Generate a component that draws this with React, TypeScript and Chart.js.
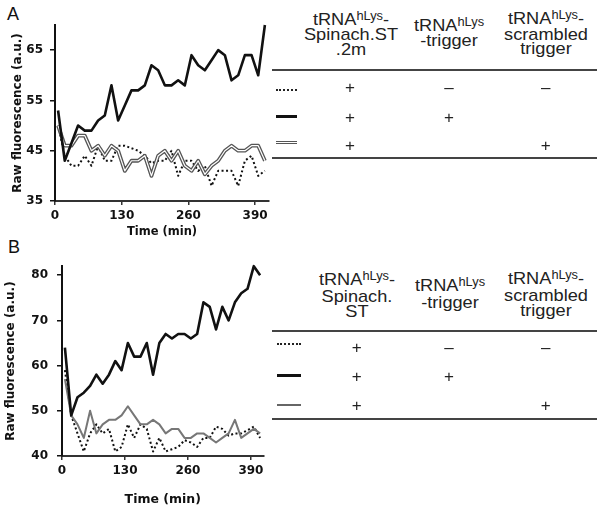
import React, { useEffect, useRef } from 'react';
import { Chart, registerables } from 'chart.js';

Chart.register(...registerables);

// ---------- data ----------
const TIMES = [6, 19, 32, 45, 58, 71, 84, 97, 110, 123, 136, 149, 162, 175, 188, 201, 214, 227, 240, 253, 266, 279, 292, 305, 318, 331, 344, 357, 370, 383, 396, 409];

// Panel A
const A_SPINACH_ONLY = [50, 44, 42, 42, 44, 42, 46, 43, 43, 46, 46, 45.5, 45, 44, 42.5, 43, 43, 45, 40, 43, 43, 41, 42, 38, 41, 41, 41, 38, 43, 44, 40, 41];
const A_TRIGGER = [53, 43, 46.5, 50, 49, 49, 51, 52, 58, 51, 54, 57, 57, 58, 62, 61, 58, 58, 59, 58, 64, 62, 61, 63, 65, 64, 59, 60, 64, 64, 60, 70];
const A_SCRAMBLED = [50, 46, 46, 48, 48, 45, 46, 44, 46, 45, 41, 43, 43, 44, 40, 44, 45, 43, 45, 42, 41, 43, 40.3, 42, 43, 45, 46, 45, 45, 46, 46, 43];

// Panel B
const B_SPINACH_ONLY = [59, 49, 45, 41, 45, 47, 45, 46, 41, 42, 47, 44, 47, 46, 41, 44, 41, 41.5, 42, 43.5, 43, 42, 44, 44, 46.5, 46, 44.5, 45, 45, 45.7, 46.5, 44];
const B_TRIGGER = [64, 49, 53, 54, 55.5, 58, 56, 58, 61, 59, 65, 62, 62, 65, 58, 65, 67, 66, 67, 67, 66, 67, 74, 73, 68, 73, 70, 74, 76, 77, 82, 80];
const B_SCRAMBLED = [57, 49, 47, 44, 50, 45, 47, 48, 48, 49, 51, 49, 47, 47, 48, 47, 45, 46, 46, 44, 44, 45, 45, 44, 43, 44, 45, 48, 44, 45, 46, 45];

const X_TICKS = [0, 130, 260, 390];
const A_Y_TICKS = [35, 45, 55, 65];
const B_Y_TICKS = [40, 50, 60, 70, 80];

const X_TITLE = 'Time (min)';
const Y_TITLE = 'Raw fluorescence (a.u.)';

// Tables
const TABLE_ROWS = [
  ['+', '–', '–'],
  ['+', '+', ''],
  ['+', '', '+'],
];
const HEAD_A = [
  { tail: '-', rest: ['Spinach.ST', '.2m'] },
  { tail: '', rest: ['-trigger'] },
  { tail: '-', rest: ['scrambled', 'trigger'] },
];
const HEAD_B = [
  { tail: '-', rest: ['Spinach.', 'ST'] },
  { tail: '', rest: ['-trigger'] },
  { tail: '-', rest: ['scrambled', 'trigger'] },
];

// ---------- chart component ----------
type Series = { data: number[]; color: string; width: number; dash?: number[] };
type PanelProps = {
  left: number; top: number; width: number; height: number;
  padTop: number; padRight: number;
  yW: number; xH: number;
  xMax: number; yMin: number; yMax: number; yTicks: number[];
  tickFont: number; yTickPad: number;
  xTitleSize: number; xTitlePadBottom: number; yTitlePadTop: number;
  series: Series[];
};

function PanelChart(p: PanelProps) {
  const ref = useRef<HTMLCanvasElement>(null);
  useEffect(() => {
    const toPts = (v: number[]) => TIMES.map((t, i) => ({ x: t, y: v[i] }));
    const font = (size: number) => ({ family: 'DejaVu Sans', weight: 'bold' as const, size });
    const chart = new Chart(ref.current as HTMLCanvasElement, {
      type: 'line',
      data: {
        datasets: p.series.map((s) => ({
          data: toPts(s.data),
          borderColor: s.color,
          borderWidth: s.width,
          borderDash: s.dash || [],
          borderCapStyle: 'butt',
          borderJoinStyle: 'round',
          pointRadius: 0,
          tension: 0,
          fill: false,
          clip: false as any,
        })),
      },
      options: {
        animation: false,
        responsive: false,
        events: [],
        layout: { padding: { left: 0, top: p.padTop, right: p.padRight, bottom: 0 } },
        plugins: { legend: { display: false }, tooltip: { enabled: false } },
        scales: {
          x: {
            type: 'linear',
            min: 0,
            max: p.xMax,
            afterBuildTicks: (s: any) => { s.ticks = X_TICKS.map((v) => ({ value: v })); },
            afterFit: (s: any) => { s.height = p.xH; },
            grid: { display: true, drawOnChartArea: false, drawTicks: true, tickLength: 4, color: '#333', lineWidth: 1.5 },
            border: { display: true, color: '#333', width: 2 },
            ticks: { font: font(p.tickFont), color: '#111', padding: 4, maxRotation: 0, autoSkip: false },
            title: { display: true, text: X_TITLE, font: font(p.xTitleSize), color: '#111', padding: { top: 0, bottom: p.xTitlePadBottom } },
          },
          y: {
            type: 'linear',
            min: p.yMin,
            max: p.yMax,
            afterBuildTicks: (s: any) => { s.ticks = p.yTicks.map((v) => ({ value: v })); },
            afterFit: (s: any) => { s.width = p.yW; },
            grid: { display: true, drawOnChartArea: false, drawTicks: true, tickLength: 5, color: '#111', lineWidth: 1.5 },
            border: { display: true, color: '#111', width: 2 },
            ticks: { font: font(p.tickFont), color: '#111', padding: p.yTickPad, autoSkip: false },
            title: { display: true, text: Y_TITLE, font: font(12), color: '#111', padding: { top: p.yTitlePadTop, bottom: 0 } },
          },
        },
      } as any,
    });
    return () => chart.destroy();
  }, []);
  return (
    <canvas
      ref={ref}
      width={p.width}
      height={p.height}
      style={{ position: 'absolute', left: p.left, top: p.top, width: p.width, height: p.height }}
    />
  );
}

// ---------- table component ----------
type TableProps = {
  heads: { tail: string; rest: string[] }[];
  headX: number[];
  headTop: number[];
  lineH: number;
  ruleTop: number;
  ruleBottom: number;
  rowY: number[];
  colX: number[];
  sampleX: number;
  sampleW: number;
  sampleY: number[];
  doubleGrey: boolean;
};

const TABLE_FONT = '"Liberation Sans", Arial, sans-serif';

function LegendTable(t: TableProps) {
  const samples = [
    <div key="s0" style={{ position: 'absolute', left: t.sampleX, top: t.sampleY[0] - 1, width: t.sampleW, height: 0, borderTop: '2px dotted #222' }} />,
    <div key="s1" style={{ position: 'absolute', left: t.sampleX, top: t.sampleY[1] - 1.5, width: t.sampleW, height: 3, background: '#111' }} />,
    t.doubleGrey ? (
      <div key="s2" style={{ position: 'absolute', left: t.sampleX, top: t.sampleY[2] - 2, width: t.sampleW, height: 1, borderTop: '1.5px solid #555', borderBottom: '1.5px solid #555', background: '#fff' }} />
    ) : (
      <div key="s2" style={{ position: 'absolute', left: t.sampleX, top: t.sampleY[2] - 1, width: t.sampleW, height: 2, background: '#666' }} />
    ),
  ];
  return (
    <>
      {t.heads.map((h, ci) => (
        <div
          key={'h' + ci}
          style={{
            position: 'absolute',
            left: t.headX[ci],
            top: t.headTop[ci],
            transform: 'translateX(-50%) scaleX(1.07)',
            transformOrigin: 'center',
            textAlign: 'center',
            whiteSpace: 'nowrap',
            fontFamily: TABLE_FONT,
            fontSize: 17,
            lineHeight: t.lineH + 'px',
            color: '#222',
          }}
        >
          <div>
            tRNA
            <span style={{ fontSize: 12, position: 'relative', top: -5 }}>hLys</span>
            {h.tail}
          </div>
          {h.rest.map((r, ri) => (
            <div key={ri}>{r}</div>
          ))}
        </div>
      ))}
      <div style={{ position: 'absolute', left: 272, top: t.ruleTop - 1, width: 325, height: 2, background: '#444' }} />
      <div style={{ position: 'absolute', left: 272, top: t.ruleBottom - 1, width: 325, height: 2, background: '#444' }} />
      {samples}
      {TABLE_ROWS.map((row, ri) =>
        row.map((cell, ci) =>
          cell ? (
            <div
              key={ri + '-' + ci}
              style={{
                position: 'absolute',
                left: t.colX[ci],
                top: t.rowY[ri],
                transform: 'translate(-50%, -50%)',
                fontFamily: TABLE_FONT,
                fontSize: 17,
                lineHeight: '17px',
                color: '#222',
              }}
            >
              {cell}
            </div>
          ) : null
        )
      )}
    </>
  );
}

// ---------- app ----------
export default function App() {
  return (
    <div style={{ position: 'absolute', left: 0, top: 0, width: 601, height: 511, background: '#fff', overflow: 'hidden' }}>
      <div style={{ position: 'absolute', left: 7, top: 4.6, fontFamily: TABLE_FONT, fontSize: 18, lineHeight: '18px', color: '#111' }}>A</div>
      <div style={{ position: 'absolute', left: 8, top: 237.6, fontFamily: TABLE_FONT, fontSize: 18, lineHeight: '18px', color: '#111' }}>B</div>

      <PanelChart
        left={0} top={0} width={275} height={245}
        padTop={25} padRight={6}
        yW={55} xH={44}
        xMax={417} yMin={35} yMax={70} yTicks={A_Y_TICKS}
        tickFont={12} yTickPad={7}
        xTitleSize={11.5} xTitlePadBottom={6} yTitlePadTop={10.8}
        series={[
          { data: A_TRIGGER, color: '#111', width: 2.6 },
          { data: A_SCRAMBLED, color: '#fff', width: 1.2 },
          { data: A_SCRAMBLED, color: '#555', width: 3.8 },
          { data: A_SPINACH_ONLY, color: '#111', width: 2, dash: [2, 2.5] },
        ]}
      />
      <PanelChart
        left={0} top={250} width={275} height={261}
        padTop={16} padRight={11.5}
        yW={62} xH={55}
        xMax={416} yMin={40} yMax={82} yTicks={B_Y_TICKS}
        tickFont={12} yTickPad={9}
        xTitleSize={12.5} xTitlePadBottom={4} yTitlePadTop={3.8}
        series={[
          { data: B_TRIGGER, color: '#111', width: 2.6 },
          { data: B_SCRAMBLED, color: '#777', width: 2 },
          { data: B_SPINACH_ONLY, color: '#111', width: 2, dash: [2, 2.5] },
        ]}
      />

      <LegendTable
        heads={HEAD_A}
        headX={[351, 449, 546]}
        headTop={[12.6, 18.6, 12]}
        lineH={14.5}
        ruleTop={70}
        ruleBottom={158.3}
        rowY={[86.7, 116.7, 145]}
        colX={[350, 449, 545.7]}
        sampleX={276}
        sampleW={20.5}
        sampleY={[90, 116.7, 143.3]}
        doubleGrey={true}
      />
      <LegendTable
        heads={HEAD_B}
        headX={[357, 450, 546]}
        headTop={[271.6, 278.3, 270.6]}
        lineH={15}
        ruleTop={330.7}
        ruleBottom={419}
        rowY={[346.7, 376, 405]}
        colX={[356.7, 449, 545.7]}
        sampleX={277}
        sampleW={24}
        sampleY={[344, 375.3, 405]}
        doubleGrey={false}
      />
    </div>
  );
}
